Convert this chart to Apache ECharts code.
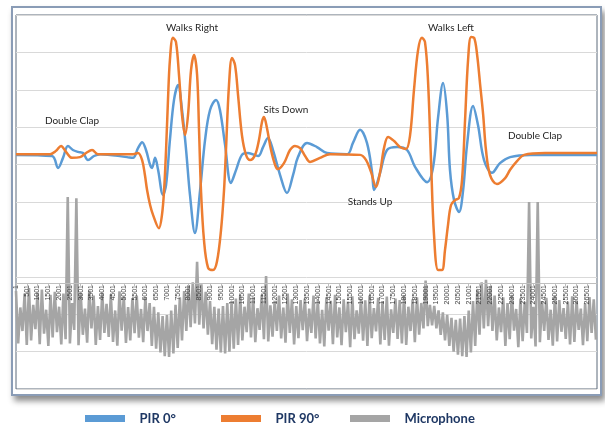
<!DOCTYPE html>
<html><head><meta charset="utf-8">
<script src="https://cdn.jsdelivr.net/npm/echarts/dist/echarts.min.js"></script>
<style>
html,body{margin:0;padding:0;background:#fff;}
#frame{position:absolute;left:11px;top:6px;width:591px;height:390px;box-sizing:border-box;border:2px solid #8a9cb6;box-shadow:3px 5px 6px rgba(0,0,0,0.45);background:#fff;}
#chart{position:absolute;left:0;top:0;width:605px;height:425px;}
</style></head><body>
<div id="frame"></div><div id="chart"></div>
<script>
// ---- data ----
const seriesNames = ['PIR 0°', 'PIR 90°', 'Microphone'];

const pir0Samples = [0,1670,1950,2180,2410,2640,2880,3110,3340,3620,3900,5150,5430,5660,5850,6030,6220,6310,6450,6590,6820,6960,7140,7330,7520,7700,7890,8070,8300,8540,8770,9000,9280,9460,9700,9970,10210,10480,10760,11230,11460,11690,11920,12250,12570,12850,13080,13500,13960,14430,15360,15630,15960,16280,16520,16610,16890,17210,17680,18140,18510,19070,19350,19580,19810,20000,20130,20320,20550,20740,20920,21200,21430,21710,22080,22450,22920,23850,26950];
const pir0Values = [6.26,6.23,5.91,6.18,6.50,6.39,6.34,6.31,6.12,6.23,6.28,6.20,6.18,6.44,6.60,6.39,5.99,5.91,6.18,5.86,5.19,5.45,6.66,7.73,8.13,7.46,6.39,5.19,4.17,5.32,6.66,7.46,7.73,7.46,6.52,5.51,5.86,6.26,6.31,6.23,6.47,6.71,6.39,5.72,5.24,5.72,6.20,6.58,6.47,6.31,6.28,6.58,6.93,6.58,5.78,5.32,5.78,6.39,6.47,6.39,5.94,5.53,5.94,7.27,8.18,7.33,5.86,5.05,4.73,5.32,6.52,7.57,7.06,6.12,5.78,6.04,6.20,6.26,6.26];

const pir90Samples = [0,1580,1860,2090,2320,2600,2970,3250,3530,3800,5430,5660,5850,5980,6080,6220,6360,6630,6770,6870,6960,7050,7140,7280,7420,7560,7700,7840,7980,8120,8260,8400,8490,8580,8720,8910,9140,9320,9510,9650,9740,9880,10020,10160,10300,10480,10670,10860,11090,11270,11410,11500,11640,11830,12020,12150,12430,12710,12940,13180,13410,13640,14100,14570,15960,16240,16470,16700,16890,17070,17260,17540,17810,18090,18280,18460,18650,18830,18970,19110,19250,19390,19580,19760,19900,20040,20180,20370,20550,20690,20830,20970,21110,21250,21390,21530,21670,21800,21990,22310,22690,22920,23250,23570,24540,26950];
const pir90Values = [6.28,6.28,6.37,6.50,6.34,6.18,6.20,6.31,6.39,6.28,6.28,6.31,6.12,5.72,5.32,4.92,4.65,4.30,4.65,5.32,6.39,7.73,8.80,9.39,9.28,8.40,7.33,6.79,7.33,8.53,8.93,8.40,6.93,5.32,3.98,3.24,3.18,3.40,4.25,5.32,6.39,8.13,8.85,8.66,7.86,6.79,6.26,6.12,6.26,6.66,7.14,7.27,6.98,6.39,5.99,5.88,6.04,6.39,6.50,6.44,6.23,6.07,6.18,6.28,6.26,6.12,5.80,5.40,5.80,6.44,6.74,6.63,6.47,6.42,6.79,7.99,9.06,9.39,9.28,8.26,6.12,4.12,3.18,3.18,3.72,4.39,4.92,5.05,5.11,5.59,7.19,8.80,9.41,9.39,8.93,8.13,7.33,6.39,5.72,5.48,5.64,5.86,6.10,6.26,6.31,6.31];

// microphone envelope, one top and one bottom value per block of samples
const micStep = 200;
const micTop = [
2.62,2.18,2.55,2.70,2.25,2.58,2.66,2.12,2.52,2.60,
2.20,2.55,5.13,2.30,5.10,2.57,2.15,2.63,2.50,2.22,
2.58,2.28,2.53,2.10,2.61,2.47,2.19,2.43,2.50,2.14,
2.45,
2.30,2.20,2.05,1.95,1.98,2.10,2.25,
2.45,2.62,2.78,2.85,3.40,2.80,2.60,
2.35,2.20,2.15,2.22,2.30,2.35,2.42,
2.50,2.20,2.55,2.45,2.16,2.52,3.02,2.24,2.36,2.50,2.18,2.55,2.40,2.22,2.38,
2.42,2.15,2.50,2.38,2.12,2.45,2.36,2.52,2.18,2.40,2.34,2.48,2.10,2.41,2.37,2.50,2.16,2.44,2.35,2.47,2.13,2.42,2.38,2.51,2.20,2.40,
2.45,2.30,2.90,2.25,2.22,2.10,
2.05,1.98,1.90,1.85,1.88,
1.95,2.10,2.35,
2.65,2.85,2.92,2.75,
2.50,2.18,2.45,2.30,2.52,2.14,2.42,2.33,5.00,2.20,5.00,2.35,2.44,2.12,2.50,2.38,2.16,2.34,2.48,2.37,2.15,2.30,2.46,2.40];
const micBottom = [
1.22,1.55,1.18,1.30,1.60,1.20,1.48,1.15,1.38,1.52,
1.19,1.33,1.22,1.58,1.17,1.45,1.24,1.62,1.18,1.31,
1.50,1.39,1.26,1.16,1.56,1.23,1.30,1.49,1.37,1.25,
1.55,
1.15,1.08,0.98,0.88,0.86,0.95,1.10,
1.30,1.55,1.65,1.75,1.72,1.62,1.45,
1.20,1.05,0.98,0.95,1.00,1.08,1.18,
1.30,1.52,1.38,1.25,1.58,1.33,1.27,1.40,1.55,1.35,1.24,1.50,1.19,1.36,1.57,
1.28,1.50,1.35,1.22,1.14,1.56,1.20,1.38,1.17,1.52,1.12,1.33,1.48,1.29,1.15,1.36,1.54,1.19,1.31,1.16,1.50,1.34,1.22,1.18,1.55,1.25,
1.45,1.62,1.68,1.70,1.62,1.45,
1.30,1.15,1.00,0.92,0.88,
0.86,0.98,1.15,
1.45,1.62,1.68,1.55,
1.30,1.52,1.15,1.33,1.56,1.12,1.28,1.50,1.35,1.14,1.25,1.55,1.31,1.16,1.27,1.53,1.34,1.19,1.26,1.58,1.17,1.28,1.50,1.32];

const annotations = ['Double Clap', 'Walks Right', 'Sits Down', 'Stands Up', 'Walks Left', 'Double Clap'];

// ---- build ----
const zip = (xs, ys) => xs.map((x, i) => [x, ys[i]]);
const micData = [];
micTop.forEach((v, i) => {
  micData.push([i * micStep, v]);
  micData.push([i * micStep + micStep / 2, micBottom[i]]);
});

const colors = ['#5b9bd5', '#ed7d31', '#a5a5a5'];
const annPos = [[72,121],[192,28],[286,110],[370,202],[451,28],[535,136]];
const legendLefts = [80, 216, 345];

const chart = echarts.init(document.getElementById('chart'));
chart.setOption({
  animation: false,
  backgroundColor: 'transparent',
  grid: {left: 16, right: 8, top: 15, bottom: 36, show: true, borderColor: '#5d6b7b', borderWidth: 1, backgroundColor: 'transparent'},
  xAxis: {
    type: 'value', min: 0, max: 26950, interval: 500, position: 'bottom', offset: -106, z: 10,
    axisLine: {show: true, onZero: false, lineStyle: {color: '#bfbfbf', width: 1}},
    axisTick: {show: true, length: 3, lineStyle: {color: '#bfbfbf'}},
    splitLine: {show: false},
    axisLabel: {rotate: 90, fontSize: 7, color: '#404040', margin: 2, fontFamily: 'Liberation Sans',
      formatter: v => String(v + 1), showMaxLabel: false}
  },
  yAxis: {
    type: 'value', min: 0, max: 10, interval: 1,
    axisLabel: {show: false}, axisLine: {show: false}, axisTick: {show: false},
    splitLine: {lineStyle: {color: '#d9d9d9', width: 1}}
  },
  legend: seriesNames.map((n, i) => ({
    data: [n], left: legendLefts[i], top: 407, icon: 'rect', itemWidth: 40, itemHeight: 7,
    selectedMode: false,
    formatter: name => '\u00a0\u00a0\u00a0' + name,
    textStyle: {fontFamily: 'Lato', fontWeight: 'bold', fontSize: 13, color: '#1f3864'}
  })),
  graphic: annotations.map((t, i) => ({
    type: 'text', x: annPos[i][0], y: annPos[i][1], z: 100,
    style: {text: t, font: '10px Lato', fill: '#262626', align: 'center', verticalAlign: 'middle'}
  })),
  series: [
    {name: seriesNames[0], type: 'line', data: zip(pir0Samples, pir0Values), smooth: 0.35, showSymbol: false,
      lineStyle: {width: 2.5, color: colors[0]}, itemStyle: {color: colors[0]}, z: 2},
    {name: seriesNames[1], type: 'line', data: zip(pir90Samples, pir90Values), smooth: 0.35, showSymbol: false,
      lineStyle: {width: 2.5, color: colors[1]}, itemStyle: {color: colors[1]}, z: 3},
    {name: seriesNames[2], type: 'line', data: micData, showSymbol: false,
      lineStyle: {width: 2.6, color: colors[2]}, itemStyle: {color: colors[2]}, z: 4}
  ]
});
</script></body></html>
